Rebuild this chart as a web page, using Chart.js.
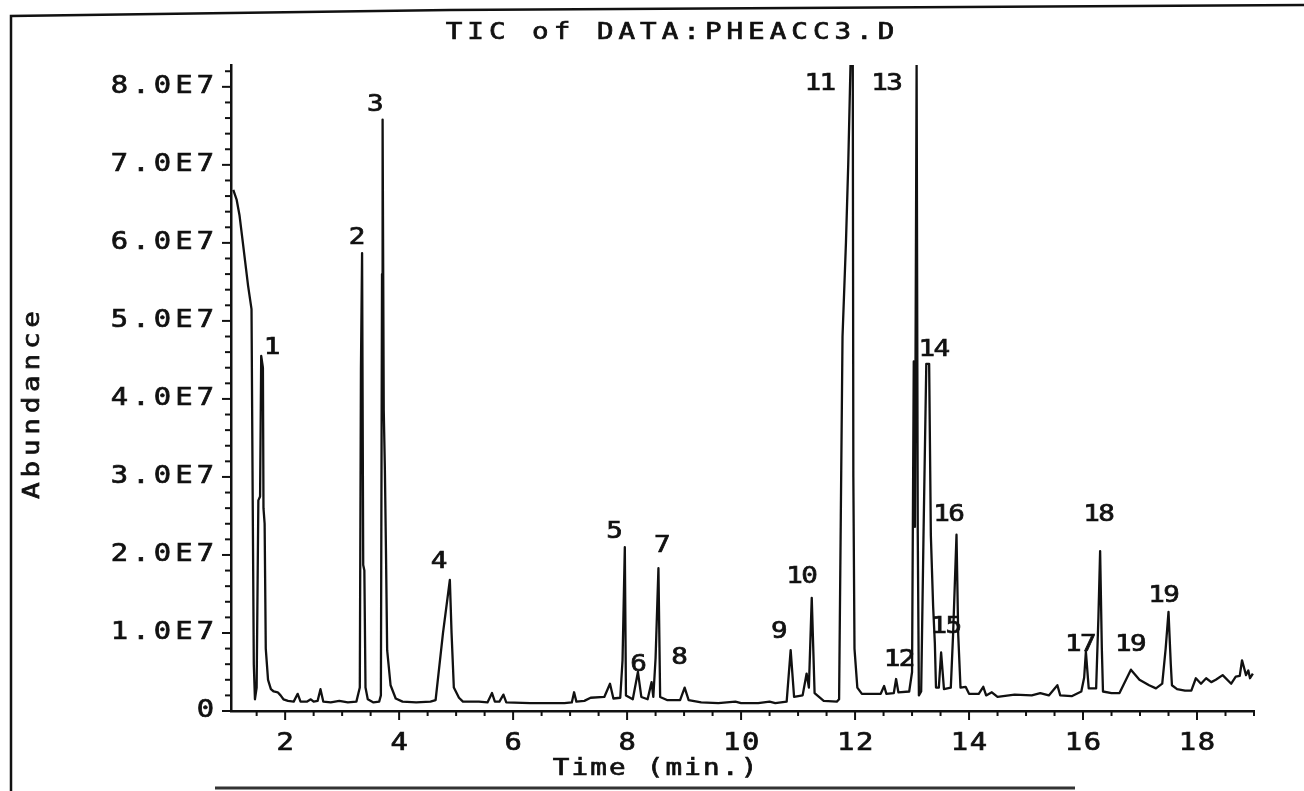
<!DOCTYPE html>
<html>
<head>
<meta charset="utf-8">
<script src="https://cdn.jsdelivr.net/npm/chart.js@4.4.1/dist/chart.umd.min.js"></script>
<style>
  html, body { margin: 0; padding: 0; background: #fff; }
  #wrap { width: 1304px; height: 791px; position: relative; }
</style>
</head>
<body>
<div id="wrap"><canvas id="tic" width="1304" height="791"></canvas></div>
<script>
const TITLE = "TIC of DATA:PHEACC3.D";
const X_TITLE = "Time (min.)";
const Y_TITLE = "Abundance";

// retention time, min.
const TIME = [
  1.09, 1.15, 1.20, 1.25, 1.30, 1.35, 1.41, 1.43, 1.45, 1.47, 1.50, 1.53, 1.56, 1.58, 1.61, 1.62,
  1.64, 1.66, 1.70, 1.75, 1.80, 1.87, 1.92, 1.97, 2.05, 2.15, 2.22, 2.27, 2.38, 2.45, 2.50, 2.57,
  2.62, 2.67, 2.80, 2.95, 3.10, 3.25, 3.31, 3.33, 3.35, 3.37, 3.39, 3.41, 3.45, 3.55, 3.65, 3.68,
  3.70, 3.71, 3.73, 3.75, 3.77, 3.79, 3.85, 3.94, 4.06, 4.30, 4.55, 4.64, 4.77, 4.89, 4.92, 4.96,
  5.05, 5.12, 5.40, 5.55, 5.63, 5.68, 5.76, 5.83, 5.88, 6.30, 6.90, 7.03, 7.07, 7.11, 7.25, 7.36,
  7.60, 7.70, 7.76, 7.88, 7.92, 7.96, 7.98, 8.10, 8.19, 8.25, 8.36, 8.43, 8.46, 8.50, 8.55, 8.58,
  8.70, 8.93, 9.01, 9.08, 9.30, 9.60, 9.90, 10.00, 10.30, 10.50, 10.60, 10.80, 10.87, 10.93, 11.08, 11.15,
  11.19, 11.24, 11.29, 11.45, 11.68, 11.72, 11.75, 11.78, 11.84, 11.88, 11.92, 11.96, 11.97, 11.99, 12.04, 12.12,
  12.45, 12.51, 12.55, 12.68, 12.72, 12.76, 12.95, 13.00, 13.03, 13.05, 13.08, 13.10, 13.12, 13.16, 13.20, 13.25,
  13.30, 13.33, 13.37, 13.40, 13.42, 13.47, 13.51, 13.56, 13.68, 13.72, 13.78, 13.81, 13.85, 13.94, 14.00, 14.17,
  14.25, 14.30, 14.40, 14.50, 14.80, 15.10, 15.25, 15.40, 15.55, 15.60, 15.80, 15.97, 16.02, 16.05, 16.10, 16.23,
  16.27, 16.30, 16.33, 16.35, 16.50, 16.64, 16.84, 16.99, 17.16, 17.28, 17.39, 17.45, 17.50, 17.54, 17.56, 17.65,
  17.79, 17.90, 17.98, 18.07, 18.16, 18.25, 18.33, 18.45, 18.60, 18.68, 18.75, 18.79, 18.86, 18.90, 18.93, 18.98
];

// abundance, in units of 1.0E7
const ABUNDANCE = [
  6.68, 6.55, 6.35, 6.05, 5.75, 5.45, 5.15, 2.80, 0.60, 0.15, 0.30, 2.70, 2.75, 4.55, 4.40, 2.60,
  2.40, 0.80, 0.40, 0.28, 0.25, 0.24, 0.20, 0.15, 0.13, 0.12, 0.22, 0.12, 0.12, 0.15, 0.12, 0.13,
  0.28, 0.12, 0.11, 0.13, 0.11, 0.12, 0.30, 4.40, 5.87, 1.87, 1.80, 0.30, 0.15, 0.11, 0.12, 0.20,
  5.60, 7.58, 3.86, 3.10, 2.00, 0.78, 0.33, 0.16, 0.12, 0.11, 0.12, 0.14, 1.00, 1.68, 1.00, 0.30,
  0.17, 0.12, 0.12, 0.11, 0.23, 0.12, 0.12, 0.21, 0.11, 0.10, 0.10, 0.11, 0.24, 0.12, 0.13, 0.17,
  0.18, 0.35, 0.16, 0.17, 0.65, 2.10, 0.20, 0.15, 0.50, 0.18, 0.15, 0.37, 0.18, 0.68, 1.83, 0.18,
  0.14, 0.14, 0.30, 0.14, 0.11, 0.10, 0.12, 0.10, 0.10, 0.12, 0.10, 0.12, 0.78, 0.18, 0.20, 0.48,
  0.30, 1.45, 0.23, 0.13, 0.12, 0.15, 2.50, 4.80, 6.00, 7.00, 8.28, 8.28, 3.00, 0.80, 0.30, 0.22,
  0.22, 0.32, 0.22, 0.23, 0.41, 0.24, 0.25, 0.50, 4.48, 2.36, 8.28, 2.30, 0.20, 0.25, 2.20, 4.45,
  4.45, 2.25, 1.34, 0.87, 0.30, 0.30, 0.75, 0.28, 0.30, 0.98, 2.26, 0.98, 0.30, 0.31, 0.22, 0.22,
  0.31, 0.20, 0.24, 0.18, 0.21, 0.20, 0.23, 0.20, 0.33, 0.20, 0.19, 0.25, 0.43, 0.76, 0.29, 0.29,
  1.20, 2.05, 0.80, 0.25, 0.23, 0.23, 0.53, 0.40, 0.33, 0.29, 0.35, 0.80, 1.27, 0.60, 0.33, 0.28,
  0.26, 0.26, 0.42, 0.35, 0.42, 0.37, 0.40, 0.46, 0.35, 0.44, 0.45, 0.65, 0.46, 0.52, 0.42, 0.48
];

const X_TICKS = [2, 4, 6, 8, 10, 12, 14, 16, 18];
const Y_TICKS = [0, 1, 2, 3, 4, 5, 6, 7, 8];
const Y_TICK_LABELS = ["0", "1.0E7", "2.0E7", "3.0E7", "4.0E7", "5.0E7", "6.0E7", "7.0E7", "8.0E7"];

const PEAK_LABELS = ["1", "2", "3", "4", "5", "6", "7", "8", "9", "10",
  "11", "12", "13", "14", "15", "16", "17", "18", "19", "19"];
const PEAK_LABEL_TIME = [1.77, 3.26, 3.58, 4.70, 7.78, 8.20, 8.62, 8.92, 10.67, 11.07,
  11.39, 12.78, 12.56, 13.39, 13.60, 13.65, 15.96, 16.28, 16.84, 17.42];
const PEAK_LABEL_ABUND = [4.65, 6.06, 7.77, 1.91, 2.30, 0.59, 2.11, 0.68, 1.01, 1.72,
  8.03, 0.65, 8.03, 4.63, 1.08, 2.51, 0.85, 2.51, 0.85, 1.47];

const FONT = "'DejaVu Sans Mono', 'Liberation Mono', monospace";
const INK = "#111";

// plotter style text: one glyph at a time on a fixed pitch
function spacedText(ctx, text, x, y, pitch, size, align) {
  ctx.font = size + "px " + FONT;
  ctx.textAlign = "center";
  ctx.textBaseline = "middle";
  ctx.lineWidth = 0.7;
  const n = text.length;
  let first = x - (n - 1) * pitch / 2;
  if (align === "right") first = x - size * 0.32 - (n - 1) * pitch;
  for (let i = 0; i < n; i++) {
    ctx.save();
    ctx.translate(first + i * pitch, y);
    ctx.scale(1.2, 1);
    ctx.fillText(text[i], 0, 0);
    ctx.strokeText(text[i], 0, 0);
    ctx.restore();
  }
}

const plotterDecor = {
  id: "plotterDecor",
  afterDraw(chart) {
    const { ctx, chartArea, scales: { x, y } } = chart;
    ctx.save();
    ctx.fillStyle = INK;
    ctx.strokeStyle = INK;
    ctx.lineCap = "butt";

    // axis ticks
    ctx.lineWidth = 2;
    for (let k = 0; k <= 41; k++) {
      const py = y.getPixelForValue(k * 0.2);
      const len = k % 5 === 0 ? 9 : 6;
      ctx.beginPath();
      ctx.moveTo(chartArea.left - len, py);
      ctx.lineTo(chartArea.left, py);
      ctx.stroke();
    }
    for (let k = 3; k <= 38; k++) {
      const px = x.getPixelForValue(k * 0.5);
      const len = k % 4 === 0 ? 9 : 5;
      ctx.beginPath();
      ctx.moveTo(px, chartArea.bottom);
      ctx.lineTo(px, chartArea.bottom + len);
      ctx.stroke();
    }

    // tick labels
    Y_TICKS.forEach((v, i) => {
      spacedText(ctx, Y_TICK_LABELS[i], 213, y.getPixelForValue(v), 21.5, 24, "right");
    });
    X_TICKS.forEach(v => {
      spacedText(ctx, String(v), x.getPixelForValue(v), 744, 19, 24);
    });

    // peak numbers
    PEAK_LABELS.forEach((lab, i) => {
      spacedText(ctx, lab, x.getPixelForValue(PEAK_LABEL_TIME[i]),
        y.getPixelForValue(PEAK_LABEL_ABUND[i]), 15, 23);
    });

    // titles
    spacedText(ctx, TITLE, 670, 33, 21.6, 23);
    spacedText(ctx, X_TITLE, 655, 769, 18.8, 23);
    ctx.save();
    ctx.translate(33, 405);
    ctx.rotate(-Math.PI / 2);
    spacedText(ctx, Y_TITLE, 0, 0, 21.4, 23);
    ctx.restore();

    // page frame of the scanned sheet
    ctx.lineWidth = 2.5;
    ctx.beginPath();
    ctx.moveTo(11, 791);
    ctx.lineTo(11, 16);
    ctx.lineTo(450, 10);
    ctx.lineTo(1304, 5);
    ctx.stroke();
    ctx.lineWidth = 3;
    ctx.strokeStyle = "#333";
    ctx.beginPath();
    ctx.moveTo(215, 788);
    ctx.lineTo(1075, 788);
    ctx.stroke();
    ctx.restore();
  }
};

new Chart(document.getElementById("tic"), {
  type: "line",
  data: {
    datasets: [{
      label: "TIC",
      data: TIME.map((t, i) => ({ x: t, y: ABUNDANCE[i] })),
      borderColor: INK,
      borderWidth: 2.3,
      borderJoinStyle: "round",
      pointRadius: 0,
      tension: 0,
      fill: false,
    }],
  },
  options: {
    responsive: false,
    animation: false,
    devicePixelRatio: 1,
    layout: { padding: { top: 65, right: 50, left: 0, bottom: 0 } },
    plugins: {
      legend: { display: false },
      tooltip: { enabled: false },
      title: { display: false },
    },
    scales: {
      x: {
        type: "linear",
        min: 1.05,
        max: 19,
        grid: { display: false },
        ticks: { display: false },
        border: { display: true, color: INK, width: 2.5 },
        afterFit: s => { s.height = 80; },
      },
      y: {
        type: "linear",
        min: 0,
        max: 8.28,
        grid: { display: false },
        ticks: { display: false },
        border: { display: true, color: INK, width: 2.5 },
        afterFit: s => { s.width = 231; },
      },
    },
  },
  plugins: [plotterDecor],
});
</script>
</body>
</html>
